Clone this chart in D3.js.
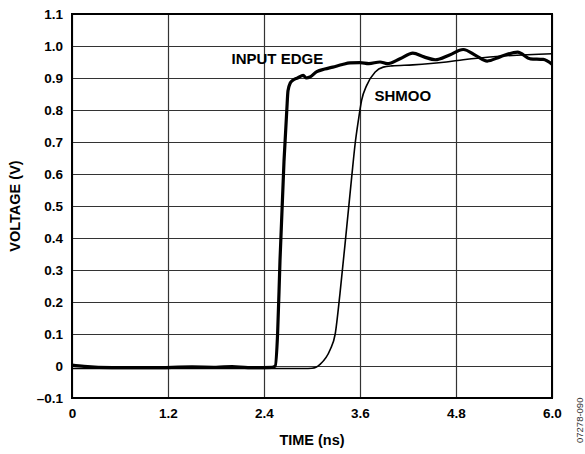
<!DOCTYPE html>
<meta charset="utf-8">
<style>
  body { margin: 0; background: #fff; }
  text { font-family: "Liberation Sans", Arial, sans-serif; }
</style>
<svg width="585" height="454"></svg>
<script src="https://d3js.org/d3.v7.min.js"></script>
<script>
// tick values and their printed labels
var xTicks = [0, 1.2, 2.4, 3.6, 4.8, 6.0]
var xTickLabels = ['0', '1.2', '2.4', '3.6', '4.8', '6.0']
var yTicks = [-0.1, 0, 0.1, 0.2, 0.3, 0.4, 0.5, 0.6, 0.7, 0.8, 0.9, 1.0, 1.1]
var yTickLabels = ['–0.1', '0', '0.1', '0.2', '0.3', '0.4', '0.5', '0.6', '0.7', '0.8', '0.9', '1.0', '1.1']

// INPUT EDGE trace, [time ns, volts]
var inputTime = [0, 0.15, 0.5, 1.0, 1.5, 1.8, 2.0, 2.2, 2.5, 2.54, 2.57, 2.6, 2.65, 2.685, 2.7, 2.73, 2.76, 2.82, 2.89, 2.93, 2.975, 3.06, 3.16, 3.26, 3.38, 3.475, 3.6, 3.71, 3.85, 3.94, 4.1, 4.26, 4.4, 4.54, 4.72, 4.89, 5.05, 5.19, 5.35, 5.57, 5.73, 5.89, 6.0]
var inputVolt = [0.003, -0.001, -0.005, -0.005, -0.003, -0.004, -0.002, -0.005, -0.004, 0.0, 0.1, 0.33, 0.64, 0.8, 0.86, 0.885, 0.893, 0.9, 0.908, 0.9, 0.903, 0.92, 0.928, 0.934, 0.942, 0.947, 0.948, 0.945, 0.95, 0.945, 0.96, 0.978, 0.966, 0.957, 0.972, 0.989, 0.97, 0.953, 0.966, 0.981, 0.96, 0.958, 0.943]

// SHMOO trace
var shmooTime = [0, 1.0, 2.0, 2.9, 3.0, 3.05, 3.1, 3.225, 3.29, 3.35, 3.434, 3.496, 3.54, 3.58, 3.62, 3.684, 3.79, 3.89, 4.0, 4.26, 4.68, 4.89, 5.35, 6.0]
var shmooVolt = [-0.008, -0.008, -0.008, -0.008, -0.007, -0.004, 0.005, 0.05, 0.1, 0.227, 0.434, 0.59, 0.696, 0.768, 0.83, 0.877, 0.919, 0.934, 0.938, 0.941, 0.95, 0.957, 0.968, 0.976]

var margin = { top: 14, left: 72, right: 33, bottom: 56 }
var svg = d3.select('svg')
var width = 585 - margin.left - margin.right
var height = 454 - margin.top - margin.bottom

var x = d3.scaleLinear().domain([0, 6]).range([0, width])
var y = d3.scaleLinear().domain([-0.1, 1.1]).range([height, 0])

var g = svg.append('g').attr('transform', 'translate(' + margin.left + ',' + margin.top + ')')

// grid + labels through axes
var yAxis = g.append('g')
  .call(d3.axisLeft(y).tickValues(yTicks).tickSize(-width).tickPadding(9)
    .tickFormat(function (d, i) { return yTickLabels[i] }))
yAxis.select('.domain').remove()
yAxis.selectAll('line').attr('stroke', '#333').attr('stroke-width', 1.2)
yAxis.selectAll('text').attr('font-size', 13.5).attr('font-weight', 'bold').attr('fill', '#000')
  .attr('font-family', '"Liberation Sans", Arial, sans-serif')

var xAxis = g.append('g').attr('transform', 'translate(0,' + height + ')')
  .call(d3.axisBottom(x).tickValues(xTicks).tickSize(-height).tickPadding(10)
    .tickFormat(function (d, i) { return xTickLabels[i] }))
xAxis.select('.domain').remove()
xAxis.selectAll('line').attr('stroke', '#333').attr('stroke-width', 1.2)
xAxis.selectAll('text').attr('font-size', 13.5).attr('font-weight', 'bold').attr('fill', '#000')
  .attr('font-family', '"Liberation Sans", Arial, sans-serif')

g.append('rect').attr('width', width).attr('height', height)
  .attr('fill', 'none').attr('stroke', '#000').attr('stroke-width', 2)

var line = d3.line()
  .x(function (d) { return x(d[0]) })
  .y(function (d) { return y(d[1]) })
  .curve(d3.curveMonotoneX)

var shmoo = shmooTime.map(function (t, i) { return [t, shmooVolt[i]] })
var input = inputTime.map(function (t, i) { return [t, inputVolt[i]] })

g.append('path').datum(shmoo).attr('d', line)
  .attr('fill', 'none').attr('stroke', '#000').attr('stroke-width', 1.6)
g.append('path').datum(input).attr('d', line)
  .attr('fill', 'none').attr('stroke', '#000').attr('stroke-width', 3.2)
  .attr('stroke-linejoin', 'round')

// series labels
g.append('text').attr('x', x(3.14)).attr('y', y(0.943)).attr('text-anchor', 'end')
  .attr('font-size', 15).attr('font-weight', 'bold').text('INPUT EDGE')
g.append('text').attr('x', x(3.78)).attr('y', y(0.827))
  .attr('font-size', 15).attr('font-weight', 'bold').text('SHMOO')

// axis titles
svg.append('text').attr('x', margin.left + width / 2).attr('y', 445)
  .attr('text-anchor', 'middle').attr('font-size', 14.5).attr('font-weight', 'bold').text('TIME (ns)')
svg.append('text').attr('transform', 'translate(20,' + (margin.top + height / 2) + ') rotate(-90)')
  .attr('text-anchor', 'middle').attr('font-size', 14.5).attr('font-weight', 'bold').text('VOLTAGE (V)')

svg.append('text').attr('transform', 'translate(583,443) rotate(-90)')
  .attr('font-size', 9.5).attr('fill', '#333').text('07278-090')
</script>
